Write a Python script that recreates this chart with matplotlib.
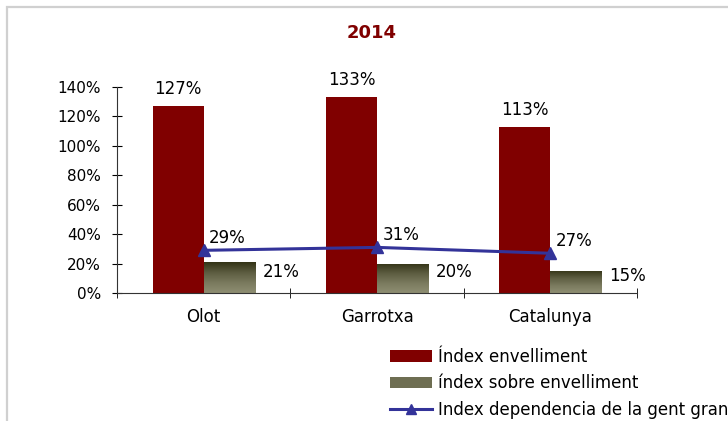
import numpy as np
import matplotlib.pyplot as plt
from matplotlib.colors import LinearSegmentedColormap
from matplotlib.patches import Rectangle

# ==== Dades ====
categories = ["Olot", "Garrotxa", "Catalunya"]
index_envelliment = [1.27, 1.33, 1.13]
index_sobre = [0.21, 0.20, 0.15]
index_dependencia = [0.29, 0.31, 0.27]
yticks = [0, 0.2, 0.4, 0.6, 0.8, 1.0, 1.2, 1.4]

RED = "#800000"
BLUE = "#333399"
FS = 11
FS2 = 12

fig = plt.figure(figsize=(7.28, 4.21), dpi=100)
fig.patches.append(Rectangle((7 / 728, -0.1), 2.0, 1.1 - 7.5 / 421, transform=fig.transFigure,
                             fill=False, edgecolor="#d0d0d0", linewidth=1.6))

ax = fig.add_axes([117 / 728, 1 - 293 / 421, (637 - 117) / 728, (293 - 87) / 421])

x = np.arange(len(categories))
w = 0.295
bars1 = ax.bar(x - w / 2, index_envelliment, w, color=RED, label="Índex envelliment", zorder=2)
bars2 = ax.bar(x + w / 2, index_sobre, w, color="#6b6b50", label="índex sobre envelliment", zorder=2)

# degradat de les barres verdoses
cmap = LinearSegmentedColormap.from_list("oliva", ["#8e8e72", "#7a7a5e", "#5c5c40", "#333316"])
grad = np.linspace(0, 1, 100).reshape(-1, 1)
for b in bars2:
    b.set_facecolor("none")
    im = ax.imshow(grad, cmap=cmap, origin="lower", aspect="auto", zorder=2,
                   extent=[b.get_x(), b.get_x() + b.get_width(), 0, b.get_height()])
    im.set_clip_path(b)

line, = ax.plot(x, index_dependencia, color=BLUE, lw=2.2, marker="^", markersize=9,
                label="Index dependencia de la gent gran", zorder=4)

for i in range(len(x)):
    ax.text(x[i] - w / 2, index_envelliment[i] + 0.055, f"{index_envelliment[i]:.0%}",
            ha="center", va="bottom", fontsize=FS2)
    ax.text(x[i] + w + 0.045, index_sobre[i] * 0.5 + 0.04, f"{index_sobre[i]:.0%}",
            ha="left", va="center", fontsize=FS2)
    ax.text(x[i] + 0.03, index_dependencia[i] + 0.02, f"{index_dependencia[i]:.0%}",
            ha="left", va="bottom", fontsize=FS2)

ax.set_xlim(-0.5, 2.5)
ax.set_ylim(0, 1.4)
ax.set_yticks(yticks)
ax.set_yticklabels([f"{v:.0%}" for v in yticks], fontsize=FS)
ax.set_xticks(x)
ax.set_xticklabels(categories, fontsize=FS2)
ax.set_xticks([-0.5, 0.5, 1.5, 2.5], minor=True)
ax.tick_params(axis="x", which="major", length=0, pad=11)
ax.tick_params(axis="x", which="minor", direction="inout", length=7)
ax.tick_params(axis="y", direction="inout", length=7, pad=8)
ax.spines["top"].set_visible(False)
ax.spines["right"].set_visible(False)
ax.spines["left"].set_color("#333333")
ax.spines["bottom"].set_color("#333333")

fig.text(372 / 728, 1 - 33 / 421, "2014", ha="center", va="center",
         fontsize=13, fontweight="bold", color=RED)

handles = [bars1, Rectangle((0, 0), 1, 1, facecolor="#6e6e52"), line]
labels = ["Índex envelliment", "índex sobre envelliment", "Index dependencia de la gent gran"]
fig.legend(handles, labels, loc="upper left", bbox_to_anchor=(390 / 728, 1 - 348 / 421),
           frameon=False, fontsize=FS2, handlelength=2.5, handletextpad=0.35,
           labelspacing=0.5, borderaxespad=0, borderpad=0, markerscale=0.8)

fig.savefig("out.png", dpi=100)
